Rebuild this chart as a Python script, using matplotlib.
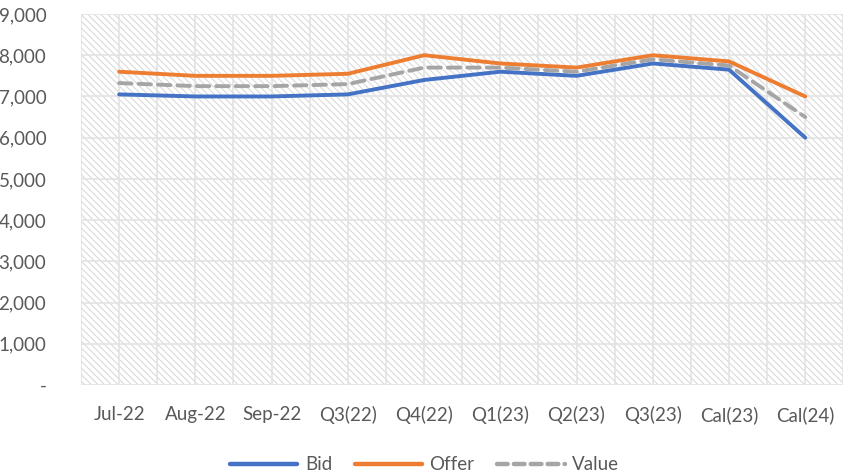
import numpy as np
import matplotlib
matplotlib.use("Agg")
from matplotlib import pyplot as plt
from matplotlib.patches import Rectangle
from matplotlib.lines import Line2D
from matplotlib.ticker import FuncFormatter

categories = ["Jul-22", "Aug-22", "Sep-22", "Q3(22)", "Q4(22)",
              "Q1(23)", "Q2(23)", "Q3(23)", "Cal(23)", "Cal(24)"]
bid = [7050, 7000, 7000, 7050, 7400, 7600, 7500, 7800, 7650, 6000]
offer = [7600, 7500, 7500, 7550, 8000, 7800, 7700, 8000, 7850, 7000]
value = [7325, 7250, 7250, 7300, 7700, 7700, 7600, 7900, 7750, 6500]

plt.rcParams['font.family'] = ['Lato', 'DejaVu Sans']
plt.rcParams['hatch.linewidth'] = 0.8
plt.rcParams['hatch.color'] = '#DADADA'

fig = plt.figure(figsize=(8.49, 4.76), dpi=100)
ax = fig.add_axes([0.0954, 0.191, 0.898, 0.7796])

x = np.arange(len(categories))
ax.set_xlim(-0.5, len(categories) - 0.5)
ax.set_ylim(0, 9000)

# hatched plot area
ax.add_patch(Rectangle((0, 0), 1, 1, transform=ax.transAxes, facecolor='white',
                       edgecolor='#DADADA', hatch='\\\\\\\\\\', linewidth=0, zorder=0))

for xv in np.arange(-0.5, len(categories), 0.5):
    ax.axvline(xv, color='#E3E3E3', lw=1.2, zorder=1)
for yv in range(0, 10000, 1000):
    ax.axhline(yv, color='#E3E3E3', lw=1.2, zorder=1)

ax.plot(x, bid, color='#4472C4', lw=2.8, zorder=3, solid_capstyle='round')
ax.plot(x, offer, color='#ED7D31', lw=2.8, zorder=3, solid_capstyle='round')
ax.plot(x, value, color='#A5A5A5', lw=2.8, zorder=3,
        dashes=(3.2, 1.8), dash_capstyle='round')

for s in ax.spines.values():
    s.set_visible(False)

ax.set_xticks(x)
ax.set_xticklabels(categories)
ax.set_yticks(range(0, 10000, 1000))
ax.yaxis.set_major_formatter(FuncFormatter(lambda v, p: '-' if v == 0 else '{:,.0f}'.format(v)))
ax.tick_params(length=0, labelsize=13.5, colors='#595959')
ax.tick_params(axis='x', pad=15)
ax.tick_params(axis='y', pad=25)

# legend proxies so the dashed handle shows four whole dashes
handles = [
    Line2D([], [], color='#4472C4', lw=3.2, solid_capstyle='round'),
    Line2D([], [], color='#ED7D31', lw=3.2, solid_capstyle='round'),
    Line2D([], [], color='#A5A5A5', lw=3.2, dashes=(2.4, 1.4), dash_capstyle='round'),
]
fig.legend(handles, ['Bid', 'Offer', 'Value'], loc='lower center',
           bbox_to_anchor=(0.5, -0.03), ncol=3, frameon=False,
           fontsize=13.5, labelcolor='#595959', handlelength=3.6, columnspacing=1.2,
           handletextpad=0.4)

fig.savefig('out.png', dpi=100)
